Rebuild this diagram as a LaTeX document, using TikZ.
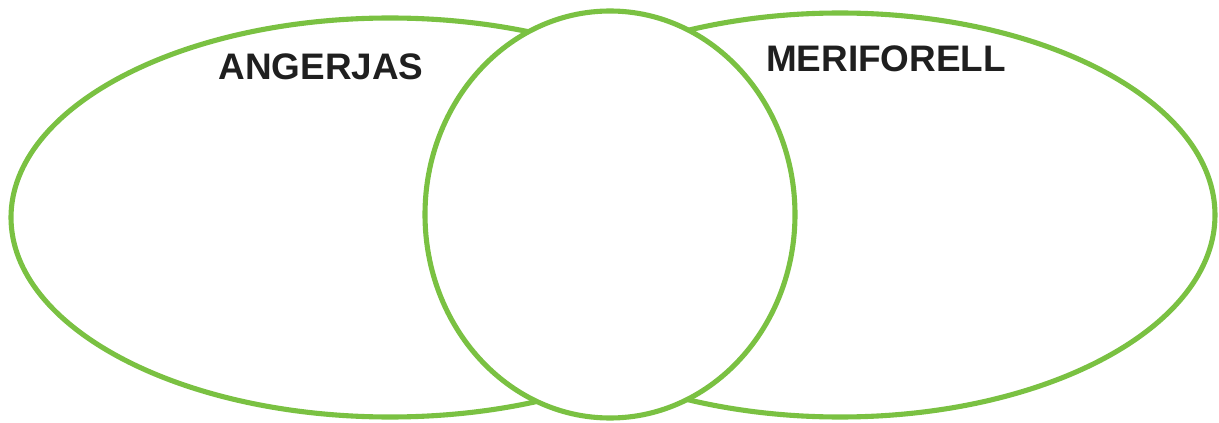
\documentclass[tikz,border=0pt]{standalone}
\usepackage{fontspec}
\setmainfont{Liberation Sans}
\usepackage{tikz}
\usetikzlibrary{positioning,calc}
\definecolor{LeafGreen}{RGB}{122,193,66}
\tikzset{
	ring/.style={draw=LeafGreen,line width=2.9pt},
	setname/.style={font=\fontsize{21}{25}\selectfont\bfseries,text=black!88,inner sep=0pt},
}
\begin{document}
\begin{tikzpicture}
			\useasboundingbox (0,0) rectangle (24.38,-8.46);
			\coordinate (left) at (7.8,-4.35);
			\coordinate (right) at (16.8,-4.30);
			\coordinate (mid) at (12.2,-4.29);
			\draw[ring] (left) ellipse [x radius=7.58cm,y radius=3.99cm];
			\draw[ring] (right) ellipse [x radius=7.5cm,y radius=4.04cm];
			\draw[ring,fill=white] (mid) ellipse [x radius=3.7cm,y radius=4.07cm];
			\node[setname] (angerjas) at (6.42,-1.34) {ANGERJAS};
			\node[setname] (meriforell) at (17.72,-1.18) {MERIFORELL};
		\end{tikzpicture}
\end{document}
